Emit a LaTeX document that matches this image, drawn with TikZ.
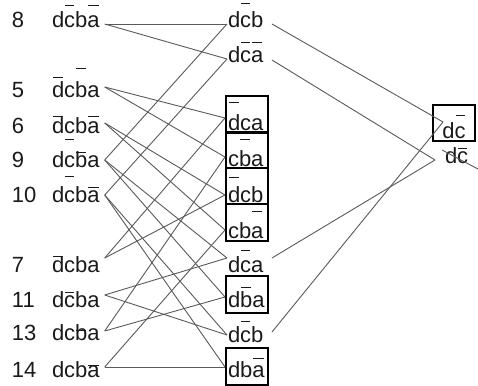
\documentclass[tikz,border=0pt]{standalone}
\usepackage{fontspec}
\setmainfont{Liberation Sans}
% letter with a bar over it; optional arg = extra raise (pt) above ascender height
\newcommand{\ovl}[2][0]{{\setbox0\hbox{#2}\rlap{\hspace{1pt}\raisebox{\dimexpr\fontcharht\font`d+#1pt-1pt\relax}{\rule{\dimexpr\wd0-2pt\relax}{1.2pt}}}\box0}}
\definecolor{ink}{HTML}{1A1A1A}
\definecolor{wire}{HTML}{5A5A5A}
\tikzset{
  txt/.style={font=\fontsize{22}{26}\selectfont, text=ink, anchor=base west, inner sep=0pt, outer sep=0pt},
  term/.style={txt},
  termbox/.style 2 args={txt, draw=black, line width=1.2pt, text height=#1, text depth=#2},
  conn/.style={draw=wire, line width=0.9pt},
}
\begin{document}
\begin{tikzpicture}[x=1pt,y=-1pt]
\useasboundingbox[fill=white] (0,0) rectangle (478,385);

% minterm indices
\foreach \n/\y in {8/28,5/98,6/133,9/167,10/202,7/272,11/307,13/340,14/377}
  \node[txt] (k\n) at (12,\y) {\n};

% minterms
\node[term] (L8)  at (52,28)  {d\ovl[8]{c}b\ovl[8]{a}};
\node[term] (L5)  at (52,98)  {\ovl[6]{d}c\ovl[15]{b}a};
\node[term] (L6)  at (52,133) {\ovl[2]{d}cb\ovl[2]{a}};
\node[term] (L9)  at (52,167) {d\ovl[13]{c}\ovl{b}a};
\node[term] (L10) at (52,202) {d\ovl[11]{c}b\ovl{a}};
\node[term] (L7)  at (52,272) {\ovl[1]{d}cba};
\node[term] (L11) at (52,307) {d\ovl{c}ba};
\node[term] (L13) at (52,340) {dc\ovl[-5]{b}a};
\node[term] (L14) at (52,377) {dcb\ovl[-3]{a}};

% pair terms
\node[term] (M1) at (228,28) {d\ovl[10]{c}b};
\node[term] (M2) at (228,63) {d\ovl[6]{c}\ovl[6]{a}};
\node[termbox={34pt}{3pt}] (M3) at (226,130) {\makebox[42pt][l]{\hspace{2pt}\ovl[13]{d}ca}};
\node[termbox={34pt}{2pt}] (M4) at (226,166) {\makebox[42pt][l]{\hspace{2pt}c\ovl[12]{b}a}};
\node[termbox={34pt}{2pt}] (M5) at (226,202) {\makebox[42pt][l]{\hspace{2pt}\ovl[10]{d}cb}};
\node[termbox={34pt}{3pt}] (M6) at (226,238) {\makebox[42pt][l]{\hspace{2pt}cb\ovl[12]{a}}};
\node[term] (M7) at (228,272) {d\ovl[7]{c}a};
\node[termbox={31pt}{6pt}] (M8) at (226,307) {\makebox[42pt][l]{\hspace{2pt}d\ovl[5]{b}a}};
\node[term] (M9) at (228,342) {d\ovl[6]{c}b};
\node[termbox={29pt}{8pt}] (M10) at (226,377) {\makebox[42pt][l]{\hspace{2pt}db\ovl[4]{a}}};

% quad terms
\node[termbox={33pt}{3pt}] (R1) at (433,138) {\makebox[42pt][c]{d\ovl[8]{c}}};
\node[term] (R2) at (445,163) {d\ovl{c}};
\coordinate (strikeEnd) at (478,169);

% minterm -> pair connectors (left node / port height / pair node / port height)
\foreach \a/\sa/\b/\sb in {8/4/1/4, 8/4/2/4, 5/11/3/12, 5/11/4/9, 6/10/5/7, 6/10/6/8,
    9/7/1/4, 9/7/7/14, 9/7/8/10, 10/7/2/4, 10/7/9/7, 10/7/10/10,
    7/14/3/12, 7/14/5/7, 11/12/7/14, 11/12/9/7, 13/9/4/9, 13/9/8/10,
    14/10/6/8, 14/10/10/10}
  \draw[conn] ([xshift=5pt,yshift=\sa pt]L\a.base east) -- ([xshift=-1pt,yshift=\sb pt]M\b.base west);

% pair -> quad connectors
\draw[conn] ([xshift=8.5pt,yshift=4pt]M1.base east)  -- ([xshift=10pt,yshift=16pt]R1.base west);
\draw[conn] ([xshift=8.5pt,yshift=10pt]M9.base east) -- ([xshift=10pt,yshift=16pt]R1.base west);
\draw[conn] ([xshift=8.5pt,yshift=3pt]M2.base east)  -- ([xshift=-10pt,yshift=3pt]R2.base west);
\draw[conn] ([xshift=8.5pt,yshift=14pt]M7.base east) -- ([xshift=-10pt,yshift=3pt]R2.base west);

% redundant term struck out
\draw[conn] ([xshift=-3pt,yshift=13pt]R2.base west) -- (strikeEnd);
\end{tikzpicture}
\end{document}
